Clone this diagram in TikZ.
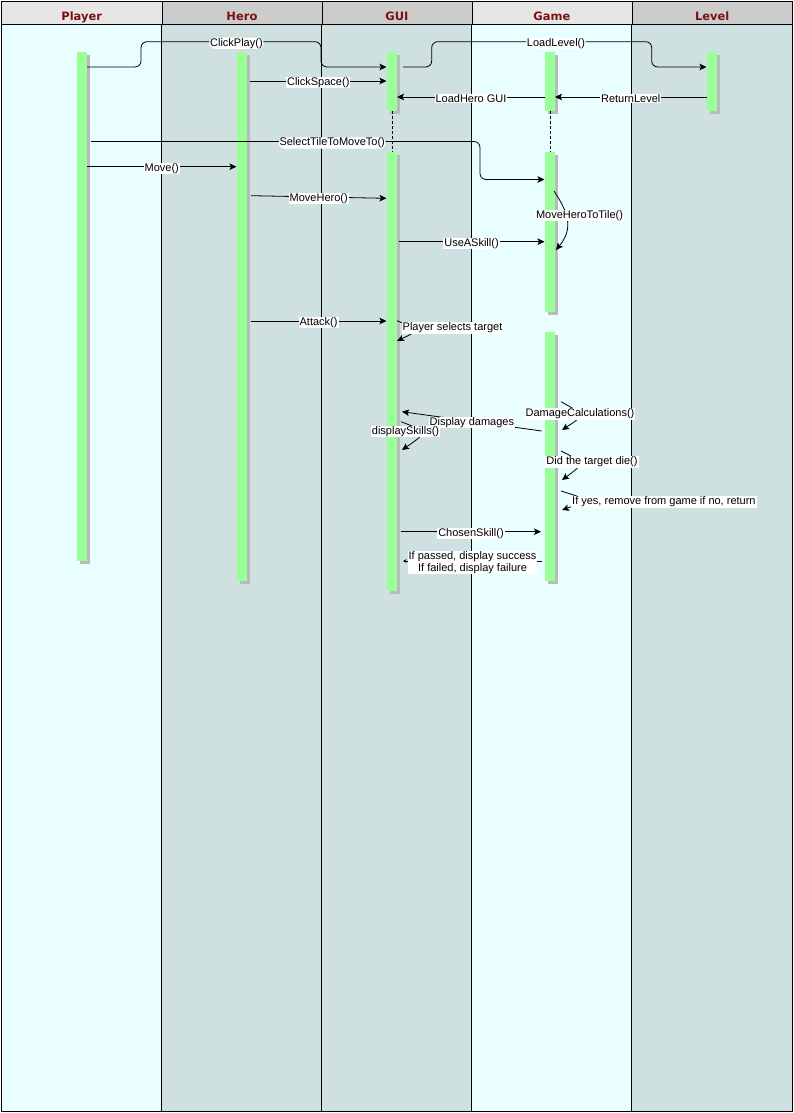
\documentclass[tikz,border=0pt]{standalone}
\usepackage{fontspec}
\setmainfont{Liberation Sans}
\newfontfamily\headfont{DejaVu Sans}
\usepackage{tikz}
\usetikzlibrary{arrows.meta,shadows}

\definecolor{lanepale}{RGB}{232,254,255}
\definecolor{lanegrey}{RGB}{207,224,224}
\definecolor{headpale}{RGB}{230,230,230}
\definecolor{headgrey}{RGB}{204,204,204}
\definecolor{headred}{RGB}{122,18,18}
\definecolor{actgreen}{RGB}{153,255,153}

\begin{document}
\begin{tikzpicture}[x=1pt, y=-1pt,
        lane/.style={draw, line width=0.9pt},
        head/.style={draw, line width=0.9pt, minimum height=23.5pt, text height=15.5pt, text depth=0pt, inner sep=0pt, anchor=north west, text=headred, font=\headfont\bfseries\fontsize{11.5}{12}\selectfont},
        act/.style={fill=actgreen, minimum width=10pt, inner sep=0pt, anchor=north west, drop shadow={shadow xshift=2.5pt, shadow yshift=-2.5pt, opacity=1, fill=black!27}},
        life/.style={line width=0.8pt, dash pattern=on 3pt off 2pt},
        msg/.style={-{Stealth[length=7pt, width=6.5pt, inset=1.5pt]}, line width=0.8pt},
        lbl/.style={fill=white, inner xsep=1pt, inner ysep=0.5pt, yshift=-1.5pt, font=\fontsize{11}{12.5}\selectfont}
    ]
        \useasboundingbox (0,0) rectangle (793,1113);

        \filldraw[lane, fill=lanepale] (1,24.5) rectangle (161.5,1111);
        \filldraw[lane, fill=lanegrey] (161.5,24.5) rectangle (321.5,1111);
        \filldraw[lane, fill=lanegrey] (321.5,24.5) rectangle (471.5,1111);
        \filldraw[lane, fill=lanepale] (471.5,24.5) rectangle (631.5,1111);
        \filldraw[lane, fill=lanegrey] (631.5,24.5) rectangle (792,1111);

        \node[head, fill=headpale, minimum width=160.5pt] (player) at (1,1) {Player};
        \node[head, fill=headgrey, minimum width=160pt] (hero) at (161.5,1) {Hero};
        \node[head, fill=headgrey, minimum width=150pt] (gui) at (321.5,1) {GUI};
        \node[head, fill=headpale, minimum width=160pt] (game) at (471.5,1) {Game};
        \node[head, fill=headgrey, minimum width=160.5pt] (level) at (631.5,1) {Level};

        \node[act, minimum height=509pt] (playerbar) at (77,52) {};
        \node[act, minimum height=529pt] (herobar) at (237,52) {};
        \node[act, minimum height=59pt] (guibarA) at (387,52) {};
        \node[act, minimum height=439pt] (guibarB) at (387,152) {};
        \node[act, minimum height=59pt] (gamebarA) at (545,52) {};
        \node[act, minimum height=160pt] (gamebarB) at (545,152) {};
        \node[act, minimum height=249pt] (gamebarC) at (545,332) {};
        \node[act, minimum height=59pt] (levelbar) at (707,52) {};

        \draw[life] (guibarA.south) -- (guibarB.north);
        \draw[life] (gamebarA.south) -- (gamebarB.north);

        \coordinate (clickplayA) at (87,67);
        \coordinate (clickplayB) at (386.5,67);
        \coordinate (clickspaceA) at (250,81);
        \coordinate (clickspaceB) at (386.5,81);
        \coordinate (loadlevelA) at (403,67);
        \coordinate (loadlevelB) at (706.5,67);
        \coordinate (returnA) at (706.5,97);
        \coordinate (returnB) at (555,97);
        \coordinate (loadheroA) at (545,97);
        \coordinate (loadheroB) at (397,97);
        \coordinate (selectA) at (91,141.5);
        \coordinate (selectB) at (544.5,179.5);
        \coordinate (moveA) at (87,166.7);
        \coordinate (moveB) at (236.5,166.7);
        \coordinate (moveheroA) at (251,195.7);
        \coordinate (moveheroB) at (386.5,198.3);
        \coordinate (tileA) at (554,191);
        \coordinate (tileB) at (556,250);
        \coordinate (skillA) at (398.5,241.7);
        \coordinate (skillB) at (544.5,241.7);
        \coordinate (attackA) at (250.7,321);
        \coordinate (attackB) at (386.5,321);
        \coordinate (targetA) at (397,320.7);
        \coordinate (targetB) at (397,341);
        \coordinate (damagesA) at (541.7,431);
        \coordinate (damagesB) at (402,411.7);
        \coordinate (dispA) at (401,421.7);
        \coordinate (dispB) at (402,450);
        \coordinate (calcA) at (561,401.7);
        \coordinate (calcB) at (562,430);
        \coordinate (dieA) at (561,451);
        \coordinate (dieB) at (562,480);
        \coordinate (removeA) at (561,491);
        \coordinate (removeB) at (562,510);
        \coordinate (chosenA) at (401,531.7);
        \coordinate (chosenB) at (541,531.7);
        \coordinate (resultA) at (542,561);
        \coordinate (resultB) at (403,561);

        \draw[msg, rounded corners=6pt] (clickplayA) -- ++(54,0) -- ++(0,-25.3) -- node[lbl, pos=0.53] {ClickPlay()} ++(180,0) -- ++(0,25.3) -- (clickplayB);
        \draw[msg] (clickspaceA) -- node[lbl] {ClickSpace()} (clickspaceB);
        \draw[msg, rounded corners=6pt] (loadlevelA) -- ++(28.7,0) -- ++(0,-25.3) -- node[lbl, pos=0.565] {LoadLevel()} ++(220,0) -- ++(0,25.3) -- (loadlevelB);
        \draw[msg] (returnA) -- node[lbl] {ReturnLevel} (returnB);
        \draw[msg] (loadheroA) -- node[lbl] {LoadHero GUI} (loadheroB);
        \draw[msg, rounded corners=6pt] (selectA) -- node[lbl, pos=0.62] {SelectTileToMoveTo()} ++(389,0) -- ++(0,38) -- (selectB);
        \draw[msg] (moveA) -- node[lbl] {Move()} (moveB);
        \draw[msg] (moveheroA) -- node[lbl] {MoveHero()} (moveheroB);
        \draw[msg] (tileA) .. controls (568,212) and (574,228) .. (tileB);
        \node[lbl] (tilelbl) at (579.5,214) {MoveHeroToTile()};
        \draw[msg] (skillA) -- node[lbl] {UseASkill()} (skillB);
        \draw[msg] (attackA) -- node[lbl] {Attack()} (attackB);
        \draw[msg] (targetA) .. controls (420,330) .. (targetB);
        \node[lbl, anchor=west] (targetlbl) at (401.5,326.5) {Player selects target};
        \draw[msg] (damagesA) -- node[lbl] {Display damages} (damagesB);
        \draw[msg] (dispA) .. controls (428,432) .. (dispB);
        \node[lbl] (displbl) at (405.5,430.2) {displaySkills()};
        \draw[msg] (calcA) .. controls (585,415) .. (calcB);
        \node[lbl] (calclbl) at (580,412.5) {DamageCalculations()};
        \draw[msg] (dieA) .. controls (585,463) .. (dieB);
        \node[lbl] (dielbl) at (592,460.5) {Did the target die()};
        \draw[msg] (removeA) .. controls (590,500) .. (removeB);
        \node[lbl, anchor=west] (removelbl) at (571,500.5) {If yes, remove from game if no, return};
        \draw[msg] (chosenA) -- node[lbl] {ChosenSkill()} (chosenB);
        \draw[-{Stealth[length=3.5pt, width=3.5pt]}, line width=0.8pt] (resultA) -- node[lbl, align=center] {If passed, display success\\If failed, display failure} (resultB);
    \end{tikzpicture}
\end{document}
